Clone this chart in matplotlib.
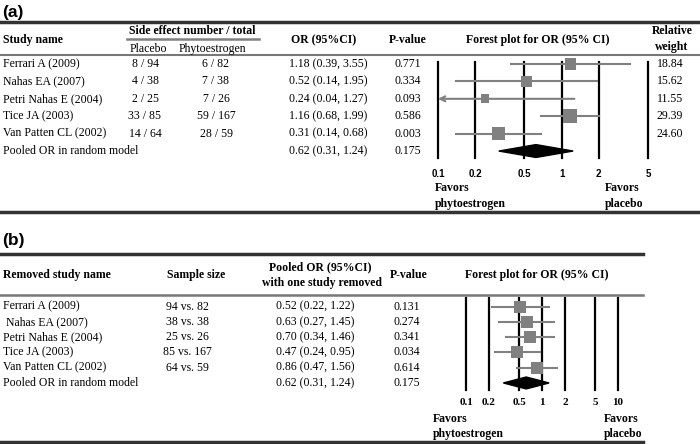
import numpy as np
import matplotlib
matplotlib.use("Agg")
import matplotlib.pyplot as plt
from matplotlib.lines import Line2D
from matplotlib.ticker import NullLocator

plt.rcParams['font.family'] = 'Liberation Serif'

# ---- data ----
studies = ["Ferrari A (2009)", "Nahas EA (2007)", "Petri Nahas E (2004)",
           "Tice JA (2003)", "Van Patten CL (2002)"]
placebo_events = [8, 4, 2, 33, 14]
placebo_total = [94, 38, 25, 85, 64]
phyto_events = [6, 7, 7, 59, 28]
phyto_total = [82, 38, 26, 167, 59]

or_a = [1.18, 0.52, 0.24, 1.16, 0.31]
lo_a = [0.39, 0.14, 0.04, 0.68, 0.14]
hi_a = [3.55, 1.95, 1.27, 1.99, 0.68]
p_a = ["0.771", "0.334", "0.093", "0.586", "0.003"]
weight_a = [18.84, 15.62, 11.55, 29.39, 24.60]

pooled_or, pooled_lo, pooled_hi, pooled_p = 0.62, 0.31, 1.24, "0.175"

# leave-one-out
or_b = [0.52, 0.63, 0.70, 0.47, 0.86]
lo_b = [0.22, 0.27, 0.34, 0.24, 0.47]
hi_b = [1.22, 1.45, 1.46, 0.95, 1.56]
p_b = ["0.131", "0.274", "0.341", "0.034", "0.614"]

ticks_a = [0.1, 0.2, 0.5, 1, 2, 5]
ticks_b = [0.1, 0.2, 0.5, 1, 2, 5, 10]

W, H = 700, 444
GRAY = "#808080"
fig = plt.figure(figsize=(W / 100, H / 100), dpi=100)


def txt(x, y, s, **kw):
    kw.setdefault("fontsize", 8.5)
    kw.setdefault("va", "center")
    fig.text(x / W, 1 - y / H, s, **kw)


def hline(y, x0, x1, color="#333333", lw=2):
    fig.add_artist(Line2D([x0 / W, x1 / W], [1 - y / H, 1 - y / H],
                          color=color, lw=lw, transform=fig.transFigure))


def forest_axes(x0, x1, ytop, ybot):
    ax = fig.add_axes([x0 / W, 1 - ybot / H, (x1 - x0) / W, (ybot - ytop) / H])
    ax.set_xscale("log")
    for sp in ax.spines.values():
        sp.set_visible(False)
    ax.patch.set_visible(False)
    ax.set_yticks([])
    ax.xaxis.set_minor_locator(NullLocator())
    ax.tick_params(axis="x", length=0)
    return ax


def fmt_ci(o, l, h):
    return "%.2f (%.2f, %.2f)" % (o, l, h)


# ================= panel (a) =================
txt(2, 12, "(a)", fontsize=12.5, fontweight="bold", family="Liberation Sans")
hline(22, 0, 700, lw=2.5)
hline(55, 0, 700, color="#777777", lw=1.5)
hline(212, 0, 700, lw=2.5)

txt(3, 40, "Study name", fontweight="bold")
txt(192, 31, "Side effect number / total", fontweight="bold", ha="center")
hline(39.5, 127, 259, color=GRAY, lw=1.8)
txt(148, 49, "Placebo", ha="center")
txt(212, 49, "Phytoestrogen", ha="center")
txt(324, 40, "OR (95%CI)", fontweight="bold", ha="center")
txt(408, 40, "P-value", fontweight="bold", ha="center")
txt(538, 40, "Forest plot for OR (95% CI)", fontweight="bold", ha="center")
txt(672, 31, "Relative", fontweight="bold", ha="center")
txt(672, 47, "weight", fontweight="bold", ha="center")

row_a = [64 + 17.4 * i for i in range(6)]
for i, name in enumerate(studies):
    y = row_a[i]
    txt(3, y, name)
    txt(145, y, "%d / %d" % (placebo_events[i], placebo_total[i]), ha="center")
    txt(216, y, "%d / %d" % (phyto_events[i], phyto_total[i]), ha="center")
    txt(328, y, fmt_ci(or_a[i], lo_a[i], hi_a[i]), ha="center")
    txt(408, y, p_a[i], ha="center")
    txt(670, y, "%.2f" % weight_a[i], ha="center")
txt(3, row_a[5], "Pooled OR in random model")
txt(328, row_a[5], fmt_ci(pooled_or, pooled_lo, pooled_hi), ha="center")
txt(408, row_a[5], pooled_p, ha="center")

ax = forest_axes(438, 648, 62, 158)
ax.set_xlim(ticks_a[0], ticks_a[-1])
ax.set_ylim(5.4, -0.115)
for t in ticks_a:
    ax.axvline(t, color="black", lw=1.6, clip_on=False, zorder=1)
ax.set_xticks(ticks_a)
ax.set_xticklabels([str(t) for t in ticks_a], fontsize=7, fontweight="bold",
                   family="Liberation Sans")
ax.tick_params(axis="x", pad=8)
ys = np.arange(5)
for i in range(5):
    if lo_a[i] < ticks_a[0]:
        # CI runs off the left of the scale: arrow instead of a line end
        ax.annotate("", xy=(ticks_a[0], ys[i]), xytext=(hi_a[i], ys[i]),
                    arrowprops=dict(arrowstyle="->", color=GRAY, lw=1.5,
                                    mutation_scale=9, shrinkA=0, shrinkB=0),
                    annotation_clip=False)
    else:
        ax.plot([lo_a[i], hi_a[i]], [ys[i], ys[i]], color=GRAY, lw=1.5,
                zorder=2, clip_on=False)
sizes_pt = 2.6 * np.sqrt(weight_a) / 1.389
ax.scatter(or_a, ys, s=sizes_pt ** 2, marker="s", color=GRAY, zorder=3,
           linewidths=0, clip_on=False)
h = 0.37
ax.fill([pooled_lo, pooled_or, pooled_hi, pooled_or], [5, 5 - h, 5, 5 + h],
        color="black", zorder=3, clip_on=False)

txt(435, 188, "Favors", fontweight="bold")
txt(435, 204, "phytoestrogen", fontweight="bold")
txt(605, 188, "Favors", fontweight="bold")
txt(605, 204, "placebo", fontweight="bold")

# ================= panel (b) =================
txt(2, 240, "(b)", fontsize=12.5, fontweight="bold", family="Liberation Sans")
hline(254, 0, 643, lw=2.5)
hline(295, 0, 643, color="#777777", lw=1.8)
hline(442, 0, 643, lw=2.5)

txt(3, 275, "Removed study name", fontweight="bold")
txt(196, 275, "Sample size", fontweight="bold", ha="center")
txt(320, 267, "Pooled OR (95%CI)", fontweight="bold", ha="center")
txt(322, 283, "with one study removed", fontweight="bold", ha="center")
txt(409, 275, "P-value", fontweight="bold", ha="center")
txt(537, 275, "Forest plot for OR (95% CI)", fontweight="bold", ha="center")

row_b = [306.5 + 15.3 * i for i in range(6)]
for i, name in enumerate(studies):
    y = row_b[i]
    txt(3, y, (" " + name) if i == 1 else name)
    txt(187, y, "%d vs. %d" % (placebo_total[i], phyto_total[i]), ha="center")
    txt(315, y, fmt_ci(or_b[i], lo_b[i], hi_b[i]), ha="center")
    txt(407, y, p_b[i], ha="center")
txt(3, row_b[5], "Pooled OR in random model")
txt(315, row_b[5], fmt_ci(pooled_or, pooled_lo, pooled_hi), ha="center")
txt(407, row_b[5], pooled_p, ha="center")

bx = forest_axes(466, 618, 298, 390)
bx.set_xlim(ticks_b[0], ticks_b[-1])
bx.set_ylim(5.46, -0.556)
for t in ticks_b:
    bx.axvline(t, color="black", lw=1.6, clip_on=False, zorder=1)
bx.set_xticks(ticks_b)
bx.set_xticklabels([str(t) for t in ticks_b], fontsize=8, fontweight="bold")
bx.tick_params(axis="x", pad=6)
for i in range(5):
    bx.plot([lo_b[i], hi_b[i]], [ys[i], ys[i]], color=GRAY, lw=1.5, zorder=2,
            clip_on=False)
bx.scatter(or_b, ys, s=(13 / 1.389) ** 2, marker="s", color=GRAY, zorder=3,
           linewidths=0, clip_on=False)
h = 0.39
bx.fill([pooled_lo, pooled_or, pooled_hi, pooled_or], [5, 5 - h, 5, 5 + h],
        color="black", zorder=3, clip_on=False)

txt(433, 419, "Favors", fontweight="bold")
txt(433, 434, "phytoestrogen", fontweight="bold")
txt(604, 419, "Favors", fontweight="bold")
txt(604, 434, "placebo", fontweight="bold")

fig.savefig("out.png", dpi=100)
